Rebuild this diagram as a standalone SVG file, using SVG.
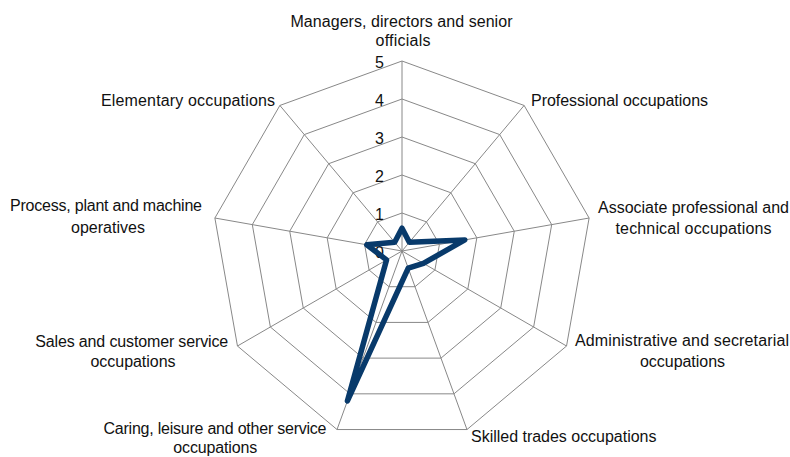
<svg xmlns="http://www.w3.org/2000/svg" width="790" height="457" viewBox="0 0 790 457">
<style>
.grid{fill:none;stroke:#888888;stroke-width:1}
.lbl{font-family:"Liberation Sans",Arial,sans-serif;font-size:16px;fill:#111111}
.num{font-family:"Liberation Sans",Arial,sans-serif;font-size:16px;fill:#111111;text-anchor:end}
.data{fill:none;stroke:#083A6B;stroke-width:5.5;stroke-linejoin:round;stroke-linecap:round}
</style>
<rect x="0" y="0" width="790" height="457" fill="#ffffff"/>
<g id="grid">
<polygon class="grid" points="402,61 524.13,105.46 589.11,218.02 566.54,346 466.98,429.54 337.02,429.54 237.46,346 214.89,218.02 279.87,105.46"/>
<polygon class="grid" points="402,99 499.71,134.57 551.69,224.61 533.63,327 453.98,393.83 350.02,393.83 270.37,327 252.31,224.61 304.29,134.57"/>
<polygon class="grid" points="402,137 475.28,163.68 514.27,231.21 500.72,308 440.99,358.12 363.01,358.12 303.28,308 289.73,231.21 328.72,163.68"/>
<polygon class="grid" points="402,175 450.85,192.78 476.84,237.81 467.82,289 427.99,322.42 376.01,322.42 336.18,289 327.16,237.81 353.15,192.78"/>
<polygon class="grid" points="402,213 426.43,221.89 439.42,244.4 434.91,270 415,286.71 389,286.71 369.09,270 364.58,244.4 377.57,221.89"/>
<path class="grid" d="M402,251L402,61M402,251L524.13,105.46M402,251L589.11,218.02M402,251L566.54,346M402,251L466.98,429.54M402,251L337.02,429.54M402,251L237.46,346M402,251L214.89,218.02M402,251L279.87,105.46"/>
</g>
<g id="scale">
<text class="num" x="384" y="258">0</text>
<text class="num" x="384" y="220">1</text>
<text class="num" x="384" y="182">2</text>
<text class="num" x="384" y="144">3</text>
<text class="num" x="384" y="106">4</text>
<text class="num" x="384" y="68">5</text>
</g>
<g id="series">
<polygon class="data" points="402,228.2 409.33,242.27 464.8,239.9 423.39,263.35 408.24,268.14 347.42,400.98 386.53,259.93 366.82,244.8 394.67,242.27"/>
</g>
<g id="label-managers">
<text class="lbl" x="401.5" y="26.5" text-anchor="middle" textLength="222">Managers, directors and senior</text>
<text class="lbl" x="403" y="46" text-anchor="middle" textLength="55">officials</text>
</g>
<g id="label-professional">
<text class="lbl" x="531" y="105.5" textLength="177">Professional occupations</text>
</g>
<g id="label-associate">
<text class="lbl" x="693.5" y="213" text-anchor="middle" textLength="191">Associate professional and</text>
<text class="lbl" x="693.5" y="233.5" text-anchor="middle" textLength="156">technical occupations</text>
</g>
<g id="label-administrative">
<text class="lbl" x="682" y="345.5" text-anchor="middle" textLength="214">Administrative and secretarial</text>
<text class="lbl" x="682.5" y="366.5" text-anchor="middle" textLength="85">occupations</text>
</g>
<g id="label-skilled">
<text class="lbl" x="471" y="441.5" textLength="185.5">Skilled trades occupations</text>
</g>
<g id="label-caring">
<text class="lbl" x="215" y="434" text-anchor="middle" textLength="223">Caring, leisure and other service</text>
<text class="lbl" x="215.3" y="453.3" text-anchor="middle" textLength="84">occupations</text>
</g>
<g id="label-sales">
<text class="lbl" x="131.7" y="346.5" text-anchor="middle" textLength="193">Sales and customer service</text>
<text class="lbl" x="133" y="366.5" text-anchor="middle" textLength="85">occupations</text>
</g>
<g id="label-process">
<text class="lbl" x="106" y="210.5" text-anchor="middle" textLength="192">Process, plant and machine</text>
<text class="lbl" x="108" y="233" text-anchor="middle" textLength="74">operatives</text>
</g>
<g id="label-elementary">
<text class="lbl" x="101" y="105.5" textLength="174">Elementary occupations</text>
</g>
</svg>
